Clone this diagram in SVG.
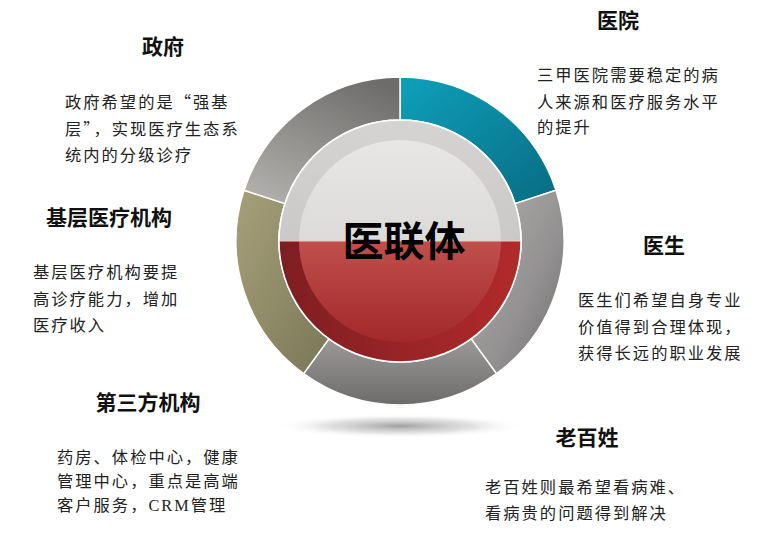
<svg xmlns="http://www.w3.org/2000/svg" width="772" height="549" viewBox="0 0 772 549">
<defs>
<style>
.t{font-family:"Noto Sans CJK SC","Liberation Sans",sans-serif;font-weight:bold;font-size:21px;fill:#111;text-anchor:middle}
.b{font-family:"Noto Sans CJK SC","Liberation Sans",sans-serif;font-size:16.3px;fill:#222;letter-spacing:2px}
.seg{stroke:#fff;stroke-width:1.5}
</style>
<linearGradient id="gTeal" x1="0" y1="0" x2="1" y2="1"><stop offset="0" stop-color="#0fa0bb"/><stop offset="1" stop-color="#076c82"/></linearGradient>
<linearGradient id="gR" x1="0" y1="0" x2="1" y2="1"><stop offset="0" stop-color="#b3b1ae"/><stop offset="0.6" stop-color="#929090"/><stop offset="1" stop-color="#6f6d6b"/></linearGradient>
<linearGradient id="gB" x1="0" y1="0" x2="0" y2="1"><stop offset="0" stop-color="#9b9997"/><stop offset="1" stop-color="#6e6c6a"/></linearGradient>
<linearGradient id="gL" x1="0" y1="0" x2="1" y2="1"><stop offset="0" stop-color="#a6a07a"/><stop offset="1" stop-color="#7b7656"/></linearGradient>
<linearGradient id="gTL" x1="0.8" y1="0" x2="0.2" y2="1"><stop offset="0" stop-color="#6e6c6a"/><stop offset="1" stop-color="#b1afac"/></linearGradient>
<linearGradient id="gTop" x1="0" y1="0" x2="0" y2="1"><stop offset="0" stop-color="#d6d4d2"/><stop offset="1" stop-color="#cbc9c7"/></linearGradient>
<linearGradient id="gTopIn" x1="0" y1="0" x2="0" y2="1"><stop offset="0" stop-color="#e8e6e4"/><stop offset="1" stop-color="#dddbd9"/></linearGradient>
<linearGradient id="gRed" x1="0" y1="0" x2="1" y2="0"><stop offset="0" stop-color="#7e1e22"/><stop offset="1" stop-color="#b22a2a"/></linearGradient>
<linearGradient id="gRedIn" x1="0" y1="0" x2="0" y2="1"><stop offset="0" stop-color="#c0504c"/><stop offset="1" stop-color="#a3282a"/></linearGradient>
<radialGradient id="gSh" cx="0.5" cy="0.5" r="0.5"><stop offset="0" stop-color="#8a8a8a" stop-opacity="0.8"/><stop offset="0.6" stop-color="#b0b0b0" stop-opacity="0.35"/><stop offset="1" stop-color="#fff" stop-opacity="0"/></radialGradient>
</defs>
<rect width="772" height="549" fill="#fff"/>
<ellipse id="shadow" cx="400" cy="426" rx="125" ry="12" fill="url(#gSh)"/>
<g id="ring">
<path id="seg-hospital" class="seg" fill="url(#gTeal)" d="M400,77 A164,164 0 0 1 555.97,190.32 L515.08,203.61 A121,121 0 0 0 400,120 Z"/>
<path id="seg-doctor" class="seg" fill="url(#gR)" d="M555.97,190.32 A164,164 0 0 1 496.4,373.68 L471.12,338.89 A121,121 0 0 0 515.08,203.61 Z"/>
<path id="seg-people" class="seg" fill="url(#gB)" d="M496.4,373.68 A164,164 0 0 1 303.6,373.68 L328.88,338.89 A121,121 0 0 0 471.12,338.89 Z"/>
<path id="seg-grassroots" class="seg" fill="url(#gL)" d="M303.6,373.68 A164,164 0 0 1 244.03,190.32 L284.92,203.61 A121,121 0 0 0 328.88,338.89 Z"/>
<path id="seg-gov" class="seg" fill="url(#gTL)" d="M244.03,190.32 A164,164 0 0 1 400,77 L400,120 A121,121 0 0 0 284.92,203.61 Z"/>
</g>
<g id="center">
<path d="M279,241 A121,121 0 0 1 521,241 Z" fill="url(#gTop)"/>
<path d="M279,241 A121,121 0 0 0 521,241 Z" fill="url(#gRed)"/>
<path d="M299,241 A101,101 0 0 1 501,241 Z" fill="url(#gTopIn)"/>
<path d="M299,241 A101,101 0 0 0 501,241 Z" fill="url(#gRedIn)"/>
<line x1="279" y1="241" x2="521" y2="241" stroke="#f0c8c0" stroke-width="1"/>
<circle cx="400" cy="241" r="121" fill="none" stroke="#fff" stroke-width="1.5"/>
<text x="404" y="256" font-family="'Noto Sans CJK SC',sans-serif" font-weight="bold" font-size="41" fill="#000" text-anchor="middle">医联体</text>
</g>
<g id="gov">
<text class="t" x="163" y="54">政府</text>
<text class="b" x="65" y="108">政府希望的是“强基</text>
<text class="b" x="65" y="135">层”，实现医疗生态系</text>
<text class="b" x="65" y="161">统内的分级诊疗</text>
</g>
<g id="hospital">
<text class="t" x="618" y="28">医院</text>
<text class="b" x="537" y="81">三甲医院需要稳定的病</text>
<text class="b" x="537" y="108">人来源和医疗服务水平</text>
<text class="b" x="537" y="133">的提升</text>
</g>
<g id="grassroots">
<text class="t" x="109" y="225">基层医疗机构</text>
<text class="b" x="33" y="278">基层医疗机构要提</text>
<text class="b" x="33" y="305">高诊疗能力，增加</text>
<text class="b" x="33" y="331">医疗收入</text>
</g>
<g id="doctor">
<text class="t" x="664" y="253">医生</text>
<text class="b" x="578" y="306">医生们希望自身专业</text>
<text class="b" x="578" y="333">价值得到合理体现，</text>
<text class="b" x="578" y="359">获得长远的职业发展</text>
</g>
<g id="third">
<text class="t" x="148" y="410">第三方机构</text>
<text class="b" x="57" y="463">药房、体检中心，健康</text>
<text class="b" x="57" y="487">管理中心，重点是高端</text>
<text class="b" x="57" y="511">客户服务，<tspan font-family="'Liberation Serif',serif">CRM</tspan>管理</text>
</g>
<g id="people">
<text class="t" x="587" y="445">老百姓</text>
<text class="b" x="485" y="493">老百姓则最希望看病难、</text>
<text class="b" x="485" y="519">看病贵的问题得到解决</text>
</g>
</svg>
